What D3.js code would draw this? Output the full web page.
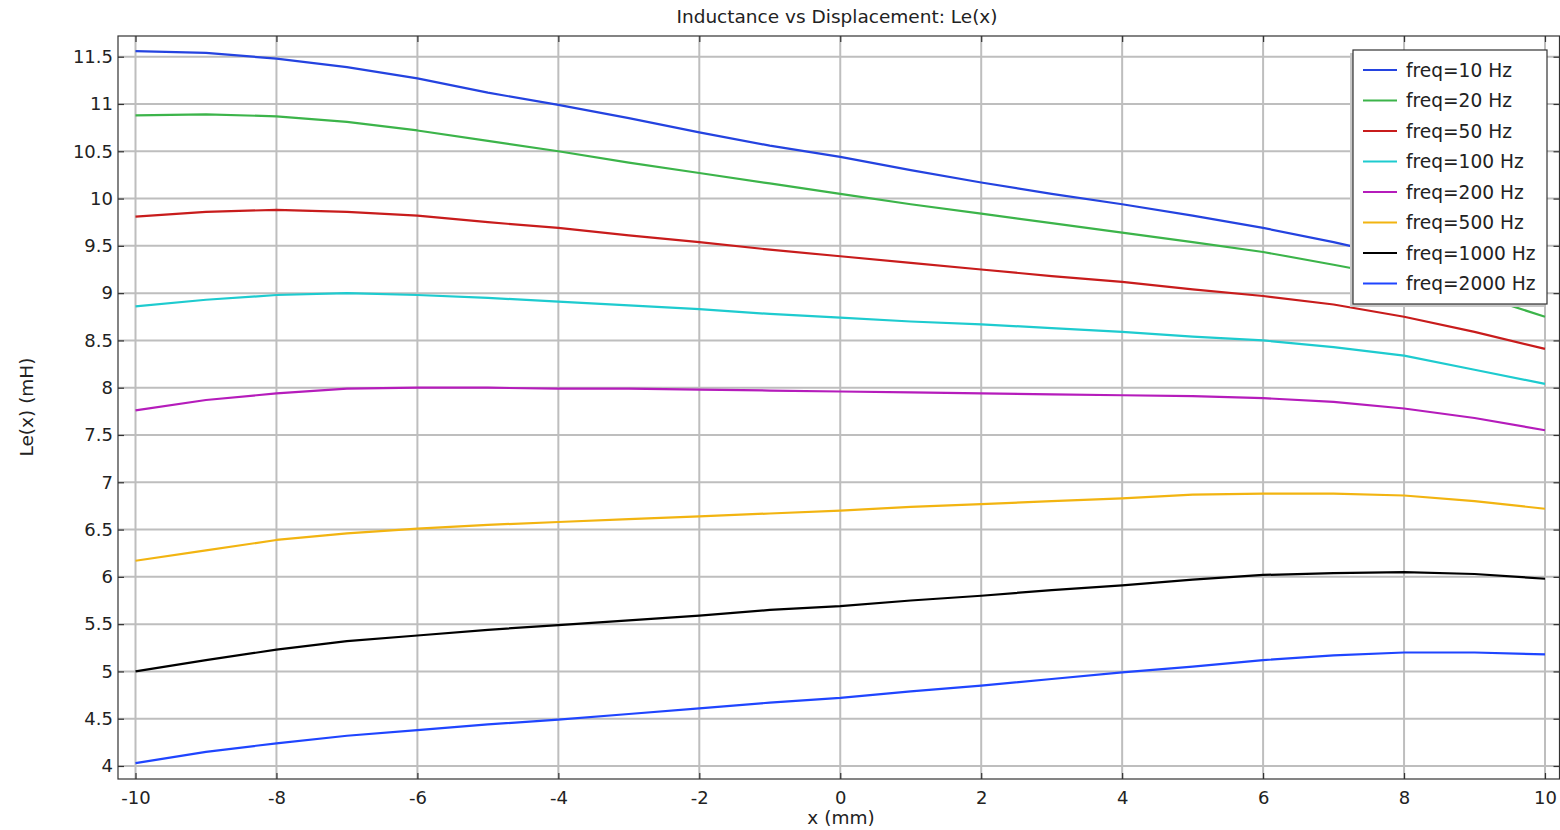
<!DOCTYPE html>
<html>
<head>
<meta charset="utf-8">
<script src="https://cdn.jsdelivr.net/npm/d3@7"></script>
<style>
  html, body { margin: 0; padding: 0; background: #fff; }
  svg { display: block; }
  text { font-family: "DejaVu Sans", sans-serif; fill: #222; }
</style>
</head>
<body>
<svg id="chart" width="1560" height="830"></svg>
<script>
// Displacement samples (mm)
const xValues = [-10, -9, -8, -7, -6, -5, -4, -3, -2, -1, 0, 1, 2, 3, 4, 5, 6, 7, 8, 9, 10];

// Inductance Le(x) in mH for each excitation frequency
const le10Hz   = [11.56, 11.54, 11.48, 11.39, 11.27, 11.12, 10.99, 10.85, 10.70, 10.56, 10.44, 10.30, 10.17, 10.05, 9.94, 9.82, 9.69, 9.54, 9.37, 9.20, 9.03];
const le20Hz   = [10.88, 10.89, 10.87, 10.81, 10.72, 10.61, 10.50, 10.38, 10.27, 10.16, 10.05, 9.94, 9.84, 9.74, 9.64, 9.54, 9.435, 9.30, 9.16, 8.99, 8.75];
const le50Hz   = [9.81, 9.86, 9.88, 9.86, 9.82, 9.75, 9.69, 9.61, 9.54, 9.46, 9.39, 9.32, 9.25, 9.18, 9.12, 9.04, 8.97, 8.88, 8.75, 8.59, 8.41];
const le100Hz  = [8.86, 8.93, 8.98, 9.00, 8.98, 8.95, 8.91, 8.87, 8.83, 8.78, 8.74, 8.70, 8.67, 8.63, 8.59, 8.54, 8.50, 8.43, 8.34, 8.19, 8.04];
const le200Hz  = [7.76, 7.87, 7.94, 7.99, 8.00, 8.00, 7.99, 7.99, 7.98, 7.97, 7.96, 7.95, 7.94, 7.93, 7.92, 7.91, 7.89, 7.85, 7.78, 7.68, 7.55];
const le500Hz  = [6.17, 6.28, 6.39, 6.46, 6.51, 6.55, 6.58, 6.61, 6.64, 6.67, 6.70, 6.74, 6.77, 6.80, 6.83, 6.87, 6.88, 6.88, 6.86, 6.80, 6.72];
const le1000Hz = [5.00, 5.12, 5.23, 5.32, 5.38, 5.44, 5.49, 5.54, 5.59, 5.65, 5.69, 5.75, 5.80, 5.86, 5.91, 5.97, 6.02, 6.04, 6.05, 6.03, 5.98];
const le2000Hz = [4.03, 4.15, 4.24, 4.32, 4.38, 4.44, 4.49, 4.55, 4.61, 4.67, 4.72, 4.79, 4.85, 4.92, 4.99, 5.05, 5.12, 5.17, 5.20, 5.20, 5.18];

const seriesLabels = ["freq=10 Hz", "freq=20 Hz", "freq=50 Hz", "freq=100 Hz", "freq=200 Hz", "freq=500 Hz", "freq=1000 Hz", "freq=2000 Hz"];
const seriesColors = ["#2443e0", "#3cb44a", "#c81c1c", "#1ecbcf", "#b51cbb", "#f2b411", "#000000", "#1f45ff"];
const seriesValues = [le10Hz, le20Hz, le50Hz, le100Hz, le200Hz, le500Hz, le1000Hz, le2000Hz];

const xTicks = [-10, -8, -6, -4, -2, 0, 2, 4, 6, 8, 10];
const yTicks = [4, 4.5, 5, 5.5, 6, 6.5, 7, 7.5, 8, 8.5, 9, 9.5, 10, 10.5, 11, 11.5];

const titleText = "Inductance vs Displacement: Le(x)";
const xLabelText = "x (mm)";
const yLabelText = "Le(x) (mH)";

// Plot frame
const frame = { left: 118, top: 36, right: 1559.5, bottom: 779 };

const x = d3.scaleLinear().domain([-10, 10]).range([135.5, 1545]);
const y = d3.scaleLinear().domain([4, 11.5]).range([766, 56.7]);

const svg = d3.select("#chart");

// Grid
const grid = svg.append("g");
grid.selectAll("line.gx").data(xTicks).enter().append("line")
  .attr("x1", d => x(d)).attr("x2", d => x(d))
  .attr("y1", frame.top).attr("y2", frame.bottom)
  .attr("stroke", "#bebebe").attr("stroke-width", 2);
grid.selectAll("line.gy").data(yTicks).enter().append("line")
  .attr("y1", d => y(d)).attr("y2", d => y(d))
  .attr("x1", frame.left).attr("x2", frame.right)
  .attr("stroke", "#bebebe").attr("stroke-width", 2);

// Series lines
const line = d3.line().x((d, i) => x(xValues[i])).y(d => y(d));
const lines = svg.append("g");
seriesValues.forEach((vals, i) => {
  lines.append("path")
    .attr("d", line(vals))
    .attr("fill", "none")
    .attr("stroke", seriesColors[i])
    .attr("stroke-width", 2.2)
    .attr("stroke-linejoin", "round");
});

// Axes with inward ticks on all four sides
const tickLen = 6;
const axB = svg.append("g").attr("transform", `translate(0,${frame.bottom})`)
  .call(d3.axisBottom(x).tickValues(xTicks).tickSize(-tickLen).tickPadding(12).tickFormat(d => String(d)));
const axT = svg.append("g").attr("transform", `translate(0,${frame.top})`)
  .call(d3.axisTop(x).tickValues(xTicks).tickSize(-tickLen).tickFormat(""));
const axL = svg.append("g").attr("transform", `translate(${frame.left},0)`)
  .call(d3.axisLeft(y).tickValues(yTicks).tickSize(-tickLen).tickPadding(5).tickFormat(d => String(d)));
const axR = svg.append("g").attr("transform", `translate(${frame.right},0)`)
  .call(d3.axisRight(y).tickValues(yTicks).tickSize(-tickLen).tickFormat(""));

[axB, axT, axL, axR].forEach(a => {
  a.select(".domain").remove();
  a.selectAll(".tick line").attr("stroke", "#333").attr("stroke-width", 1.2);
  a.selectAll(".tick text").attr("font-size", 18).attr("font-family", "DejaVu Sans, sans-serif").attr("fill", "#222");
});

// Frame border
svg.append("rect")
  .attr("x", frame.left).attr("y", frame.top)
  .attr("width", frame.right - frame.left).attr("height", frame.bottom - frame.top)
  .attr("fill", "none").attr("stroke", "#333").attr("stroke-width", 1.2);

// Legend
const lg = { x: 1353, y: 50, w: 194, h: 254, row: 30.5, first: 70 };
const legend = svg.append("g");
legend.append("rect")
  .attr("x", lg.x - 3).attr("y", lg.y + 3).attr("width", lg.w).attr("height", lg.h)
  .attr("fill", "#c8c8c8");
legend.append("rect")
  .attr("x", lg.x).attr("y", lg.y).attr("width", lg.w).attr("height", lg.h)
  .attr("fill", "#fff").attr("stroke", "#333").attr("stroke-width", 1.2);
seriesLabels.forEach((lab, i) => {
  const cy = lg.first + i * lg.row;
  legend.append("line")
    .attr("x1", lg.x + 10).attr("x2", lg.x + 44)
    .attr("y1", cy).attr("y2", cy)
    .attr("stroke", seriesColors[i]).attr("stroke-width", 2.2);
  legend.append("text")
    .attr("x", lg.x + 53).attr("y", cy + 6.5)
    .attr("font-size", 18.6)
    .text(lab);
});

// Titles
svg.append("text")
  .attr("x", 837).attr("y", 23)
  .attr("text-anchor", "middle").attr("font-size", 18.5)
  .text(titleText);
svg.append("text")
  .attr("x", 841).attr("y", 824)
  .attr("text-anchor", "middle").attr("font-size", 18.5)
  .text(xLabelText);
svg.append("text")
  .attr("transform", "translate(33,407) rotate(-90)")
  .attr("text-anchor", "middle").attr("font-size", 18.5)
  .text(yLabelText);
</script>
</body>
</html>
